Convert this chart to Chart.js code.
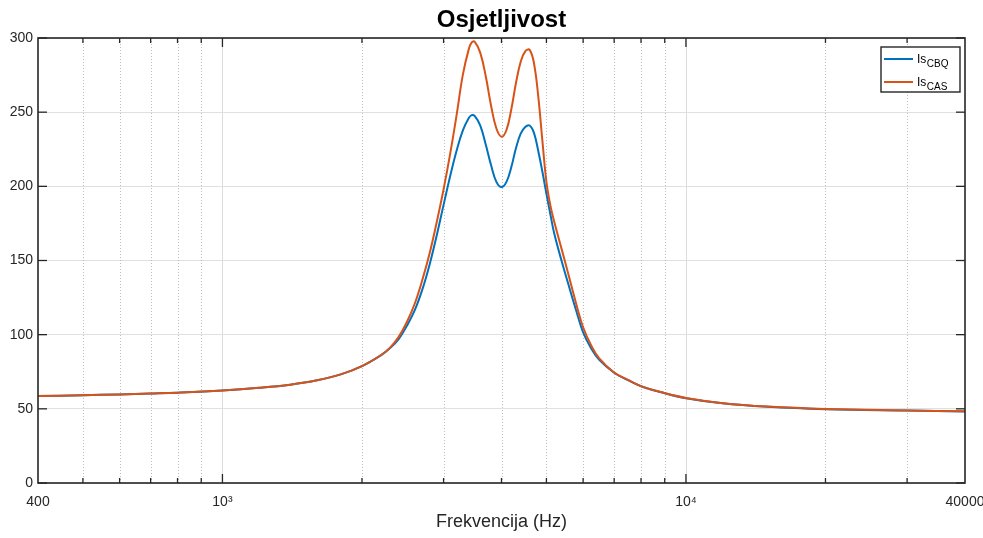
<!DOCTYPE html>
<html>
<head>
<meta charset="utf-8">
<script src="https://cdn.jsdelivr.net/npm/chart.js@4/dist/chart.umd.min.js"></script>
<style>
  html, body { margin: 0; padding: 0; background: #fff; }
  #wrap { width: 983px; height: 538px; position: relative; }
</style>
</head>
<body>
<div id="wrap"><canvas id="myChart"></canvas></div>
<script>
// frequency points (Hz)
const freqs = [400, 500, 600, 700, 800, 1000, 1200, 1400, 1600, 1800,
  2000, 2200, 2300, 2400, 2500, 2600, 2700, 2800, 2900, 3000,
  3100, 3200, 3300, 3400, 3450, 3500, 3600, 3700, 3800, 3900,
  4000, 4100, 4200, 4300, 4400, 4500, 4600, 4700, 4800, 4900,
  5000, 5100, 5200, 5400, 5600, 5800, 6000, 6250, 6500, 7000,
  7500, 8000, 9000, 10000, 12000, 15000, 20000, 30000, 40000]

const isCBQ = [58.6, 59.2, 59.7, 60.3, 60.9, 62.4, 64.2, 66.3, 69.2, 73.2,
  78.8, 86.2, 91, 97, 106, 116.5, 130.5, 147.5, 167, 187.5,
  207, 224, 237.5, 246, 248, 247.5, 241, 228, 214, 203,
  199.5, 203, 213, 226, 235.5, 240, 241, 236, 224, 210,
  195, 181, 168, 149, 132, 116, 101.5, 90.5, 83, 74.3,
  69.3, 65.2, 60.5, 57.2, 53.7, 51.4, 49.8, 48.8, 48.2]

const isCAS = [58.6, 59.2, 59.7, 60.3, 60.9, 62.4, 64.2, 66.3, 69.2, 73.2,
  78.8, 86.3, 91.3, 98.5, 108.5, 121, 137, 155, 176, 198,
  222, 248, 275, 292.5, 297, 297.5, 290, 274, 254, 239,
  233.5, 238, 252, 270, 284, 291, 292, 283, 261, 231,
  203, 187, 176, 157, 138.5, 120.5, 105, 92.5, 84, 74.5,
  69.5, 65.3, 60.6, 57.3, 53.8, 51.5, 49.9, 48.9, 48.3]

const xLabelTicks = [400, 1000, 10000, 40000]
const xLabelText = ['400', '10\u00B3', '10\u2074', '40000']
const xMajorGrid = [1000, 10000]
const xMinorGrid = [500, 600, 700, 800, 900, 2000, 3000, 4000, 5000, 6000, 7000, 8000, 9000, 20000, 30000]
const yTicks = [0, 50, 100, 150, 200, 250, 300]

const BLUE = '#0072BD'
const ORANGE = '#D95319'
const AXIS = '#262626'
const FONT = '"Liberation Sans", Arial, Helvetica, sans-serif'

Chart.defaults.font.family = FONT

function line(ctx, x1, y1, x2, y2) {
  ctx.beginPath()
  ctx.moveTo(x1, y1)
  ctx.lineTo(x2, y2)
  ctx.stroke()
}

// matlab style box, ticks, dotted minor grid, title and legend with subscripts
const matlabAxes = {
  id: 'matlabAxes',
  beforeDatasetsDraw(chart) {
    const {ctx, chartArea: a, scales: {x}} = chart
    ctx.save()
    ctx.lineWidth = 1
    ctx.strokeStyle = '#bdbdbd'
    ctx.setLineDash([1, 2])
    xMinorGrid.forEach(v => {
      const px = Math.round(x.getPixelForValue(v)) + 0.5
      line(ctx, px, a.top, px, a.bottom)
    })
    ctx.setLineDash([])
    ctx.strokeStyle = '#dcdcdc'
    xMajorGrid.forEach(v => {
      const px = Math.round(x.getPixelForValue(v)) + 0.5
      line(ctx, px, a.top, px, a.bottom)
    })
    ctx.restore()
  },
  afterDatasetsDraw(chart) {
    const {ctx, chartArea: a, scales: {x, y}} = chart
    ctx.save()
    ctx.strokeStyle = AXIS
    ctx.lineWidth = 1.3
    xMinorGrid.forEach(v => {
      const px = x.getPixelForValue(v)
      line(ctx, px, a.bottom, px, a.bottom - 5)
      line(ctx, px, a.top, px, a.top + 5)
    })
    xMajorGrid.forEach(v => {
      const px = x.getPixelForValue(v)
      line(ctx, px, a.bottom, px, a.bottom - 9)
      line(ctx, px, a.top, px, a.top + 9)
    })
    yTicks.forEach(v => {
      const py = y.getPixelForValue(v)
      line(ctx, a.left, py, a.left + 9, py)
      line(ctx, a.right, py, a.right - 9, py)
    })
    ctx.lineWidth = 1.6
    ctx.strokeRect(a.left, a.top, a.right - a.left, a.bottom - a.top)

    // title, centred over the axes box like matlab does
    ctx.fillStyle = '#000'
    ctx.font = 'bold 24px ' + FONT
    ctx.textAlign = 'center'
    ctx.textBaseline = 'middle'
    ctx.fillText('Osjetljivost', (a.left + a.right) / 2, 20)

    // legend
    const bw = 79, bh = 45
    const bx = a.right - 5 - bw, by = a.top + 9
    ctx.fillStyle = '#fff'
    ctx.fillRect(bx, by, bw, bh)
    ctx.lineWidth = 1.4
    ctx.strokeStyle = AXIS
    ctx.strokeRect(bx, by, bw, bh)
    const items = [[BLUE, 'CBQ', by + 12], [ORANGE, 'CAS', by + 35]]
    items.forEach(([col, sub, ly]) => {
      ctx.strokeStyle = col
      ctx.lineWidth = 2
      line(ctx, bx + 3, ly, bx + 32, ly)
      ctx.fillStyle = '#000'
      ctx.textBaseline = 'alphabetic'
      ctx.textAlign = 'left'
      ctx.font = '12px ' + FONT
      ctx.fillText('Is', bx + 36, ly + 4)
      const w = ctx.measureText('Is').width
      ctx.font = '10px ' + FONT
      ctx.fillText(sub, bx + 36 + w + 0.5, ly + 8)
    })
    ctx.restore()
  }
}

const ctx = document.getElementById('myChart')
const myChart = new Chart(ctx, {
  type: 'line',
  data: {
    datasets: [{
      label: 'Is CBQ',
      data: freqs.map((f, i) => ({x: f, y: isCBQ[i]})),
      borderColor: BLUE,
      borderWidth: 2,
      pointRadius: 0,
      tension: 0.4,
      order: 1
    }, {
      label: 'Is CAS',
      data: freqs.map((f, i) => ({x: f, y: isCAS[i]})),
      borderColor: ORANGE,
      borderWidth: 2,
      pointRadius: 0,
      tension: 0.4,
      order: 0
    }]
  },
  options: {
    responsive: true,
    maintainAspectRatio: false,
    animation: false,
    layout: { padding: { left: 0, right: 18, top: 38, bottom: 0 } },
    plugins: {
      legend: { display: false },
      tooltip: { enabled: false },
      title: { display: false }
    },
    scales: {
      x: {
        type: 'logarithmic',
        min: 400,
        max: 40000,
        afterBuildTicks: s => { s.ticks = xLabelTicks.map(v => ({value: v})) },
        afterFit: s => { s.height = 55; s.paddingLeft = 0; s.paddingRight = 0 },
        grid: { display: false, drawTicks: false },
        border: { display: false },
        ticks: {
          autoSkip: false,
          maxRotation: 0,
          padding: 11,
          color: AXIS,
          font: { size: 14 },
          callback: (v, i) => xLabelText[i]
        },
        title: {
          display: true,
          text: 'Frekvencija (Hz)',
          color: AXIS,
          font: { size: 18 },
          padding: { top: 0, bottom: 5 }
        }
      },
      y: {
        min: 0,
        max: 300,
        afterBuildTicks: s => { s.ticks = yTicks.map(v => ({value: v})) },
        afterFit: s => { s.width = 38 },
        grid: { color: '#e0e0e0', drawTicks: false },
        border: { display: false },
        ticks: { padding: 5, color: AXIS, font: { size: 14 } }
      }
    }
  },
  plugins: [matlabAxes]
})
</script>
</body>
</html>
